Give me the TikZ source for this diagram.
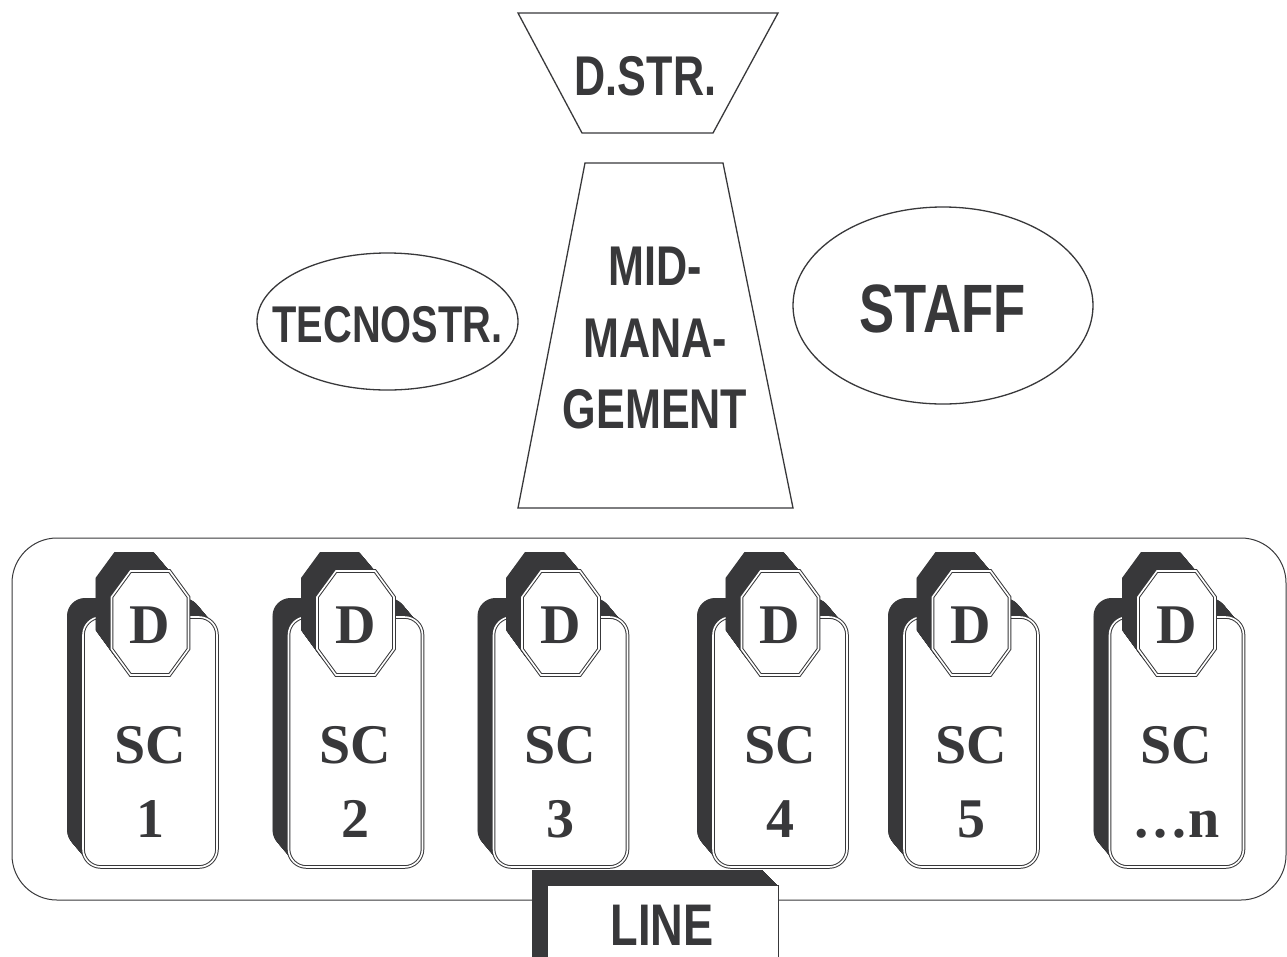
\documentclass[tikz,border=0pt]{standalone}
\usepackage{fontspec}
\setmainfont{Liberation Serif}
\newfontfamily\condsans[FakeStretch=0.77]{Liberation Sans}
\usetikzlibrary{shapes.geometric}
\definecolor{ink}{RGB}{56,56,58}
\tikzset{
  edgeline/.style={draw=ink, line width=1.3pt},
  plate/.style={draw=ink, line width=1pt, double=white, double distance=1.6pt, fill=white},
  lbl/.style={text=ink, inner sep=0pt, anchor=base},
  sanslbl/.style={lbl, font=\condsans\bfseries\fontsize{#1}{#1}\selectfont},
  seriflbl/.style={lbl, font=\bfseries\fontsize{56}{56}\selectfont},
  oval/.style={ellipse, draw=ink, line width=1.3pt, inner sep=0pt},
}
% one sub-unit card: extruded plate with an octagonal head
% #1 name, #2 centre x, #3 number
\newcommand\sccard[3]{%
  \foreach \k in {0.5,1,...,19}
    \fill[ink, shift={({-16*\k/19},{-\k})}, rounded corners=18]
      (#2-67,617) rectangle (#2+67,867);
  \draw[plate, rounded corners=18] (#2-67,617) rectangle (#2+67,867);
  \foreach \k in {0.5,1,...,19}
    \fill[ink, shift={({-16*\k/19},{-\k})}]
      (#2-19.5,571) -- (#2+19.5,571) -- (#2+38.5,597) -- (#2+38.5,649)
      -- (#2+19.5,675) -- (#2-19.5,675) -- (#2-38.5,649) -- (#2-38.5,597) -- cycle;
  \draw[plate]
      (#2-19.5,571) -- (#2+19.5,571) -- (#2+38.5,597) -- (#2+38.5,649)
      -- (#2+19.5,675) -- (#2-19.5,675) -- (#2-38.5,649) -- (#2-38.5,597) -- cycle;
  \node[seriflbl] (#1-d) at (#2,643) {D};
  \node[seriflbl] (#1-sc) at (#2,763) {SC};
  \node[seriflbl] (#1-n) at (#2,837) {#3};
}
\begin{document}
\begin{tikzpicture}[x=1pt, y=-1pt]
  \useasboundingbox (0,0) rectangle (1287,956);
  \clip (0,0) rectangle (1287,956);

  % strategic apex
  \draw[edgeline] (518,13) -- (778,13) -- (713,133) -- (582,133) -- cycle;
  \node[sanslbl=56] (dstr) at (645.5,95) {D.STR.};

  % middle line
  \draw[edgeline] (585,163) -- (723,163) -- (793,508) -- (518,508) -- cycle;
  \node[sanslbl=56] (mid1) at (655,285) {MID-};
  \node[sanslbl=56] (mid2) at (655,357) {MANA-};
  \node[sanslbl=56] (mid3) at (655,428) {GEMENT};

  % technostructure and support staff
  \node[oval, minimum width=261pt, minimum height=137pt] (tecnoshape) at (387.5,321.5) {};
  \node[sanslbl=51.7] (tecno) at (387.5,342) {TECNOSTR.};
  \node[oval, minimum width=300pt, minimum height=197pt] (staffshape) at (943,305.5) {};
  \node[sanslbl=68.4] (staff) at (942.5,332) {STAFF};

  % operating core frame
  \draw[draw=ink, line width=1pt, rounded corners=45] (12,538) rectangle (1286,900);

  \sccard{card1}{150}{1}
  \sccard{card2}{355.5}{2}
  \sccard{card3}{560.5}{3}
  \sccard{card4}{780}{4}
  \sccard{card5}{971}{5}
  \sccard{card6}{1176.5}{…n}

  % line label tab
  \foreach \k in {0.5,1,...,15}
    \fill[ink, shift={(-\k,-\k)}] (547,885) rectangle (778,990);
  \draw[draw=ink, line width=0.9pt, fill=white] (547,885) rectangle (778,990);
  \node[sanslbl=58.7] (linelbl) at (662,945) {LINE};
\end{tikzpicture}
\end{document}
